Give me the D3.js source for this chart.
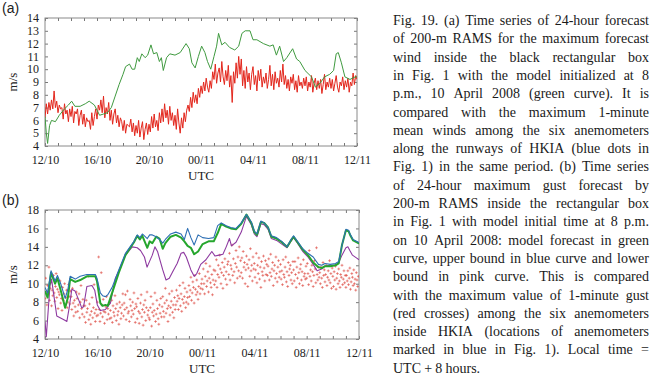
<!DOCTYPE html>
<html>
<head>
<meta charset="UTF-8">
<title>Fig. 19</title>
<script src="https://cdn.jsdelivr.net/npm/d3@7"></script>
<style>
body{margin:0;background:#fff;}
.tick text{font-family:'Liberation Serif','Times New Roman',Times,serif;font-size:12px;fill:#222;}
.tick line{stroke:#777;}
.lab{font-family:'Liberation Serif','Times New Roman',Times,serif;font-size:13px;fill:#222;}
.plab{font-family:'Liberation Sans',Arial,sans-serif;font-size:14px;fill:#222;}
.cap{font-family:'Liberation Serif','Times New Roman',Times,serif;font-size:14px;fill:#1a1a1a;}
</style>
</head>
<body>
<div id="fig"></div>
<script>
// x axis: hours from 12 UTC 10 Apr to 12 UTC 11 Apr
var tickLabels = ["12/10","16/10","20/10","00/11","04/11","08/11","12/11"];

// (a) model max wind (green)
var greenA_t = [0,0.1,0.2,0.35,0.5,0.8,1.1,1.5,1.8,2.05,2.3,2.7,3.1,3.4,3.8,4.2,4.5,4.8,5.1,5.4,5.7,6.0,6.2,6.5,6.7,6.9,7.1,7.25,7.45,7.7,7.9,8.15,8.35,8.6,8.8,8.95,9.1,9.35,9.6,10.0,10.4,10.85,11.1,11.3,11.55,11.8,12.05,12.3,12.5,12.75,13.0,13.2,13.35,13.6,13.85,14.2,14.6,14.9,15.15,15.4,15.77,16.0,16.3,16.8,17.3,17.55,17.8,18.05,18.35,18.6,19.05,19.35,19.6,20.0,20.5,20.8,21.15,21.5,21.9,22.2,22.4,22.56,22.8,23.07,23.46,23.85,24];
var greenA_v = [6.3,5.0,4.2,5.6,6.0,5.9,6.4,6.9,7.2,7.5,7.1,7.1,7.3,7.5,7.2,6.4,6.5,6.6,7.0,7.9,8.8,9.6,10.2,10.4,10.0,10.0,10.9,10.6,11.2,10.9,11.1,11.9,11.2,11.3,10.6,10.9,9.9,10.9,11.2,11.1,11.3,12.0,11.6,10.5,10.1,11.0,11.8,11.3,10.6,10.0,11.0,11.8,12.8,11.9,12.1,11.7,11.5,11.8,12.8,13.0,13.0,12.3,12.3,12.0,11.8,11.9,11.1,11.8,10.6,10.9,11.6,10.8,10.6,9.9,9.4,8.6,8.9,9.4,9.6,9.9,11.2,11.3,10.5,9.4,9.2,9.4,9.4];

// (a) observed max 1-min mean wind (red), one value every 0.1 h
var redA = [
6.2,7.3,6.5,7.4,6.8,7.6,6.9,8.3,7.0,7.5,
6.6,7.2,6.9,7.0,6.1,7.3,6.5,6.8,5.9,6.9,
6.3,7.1,5.8,6.7,6.5,6.9,5.6,6.4,6.8,5.7,
6.5,5.5,6.2,5.9,6.0,5.3,6.6,5.6,6.3,6.9,
6.1,7.2,6.8,7.6,6.6,7.9,6.2,7.0,6.5,7.4,
6.0,6.8,5.7,6.5,6.9,5.8,6.4,5.5,6.2,5.9,
5.2,6.0,5.0,5.7,5.6,5.5,6.1,5.1,5.8,4.8,
5.6,5.0,6.0,4.7,5.4,5.9,4.5,5.3,5.8,4.9,
5.7,5.1,6.3,5.4,6.5,5.5,6.0,5.2,6.6,5.8,
6.9,5.9,7.3,6.2,6.8,5.7,7.1,6.0,6.6,5.6,
6.4,5.3,6.9,5.8,5.0,6.2,5.4,6.6,5.9,6.8,
7.2,6.7,7.8,7.0,8.2,7.4,8.0,7.3,8.5,7.8,
8.7,8.1,9.0,8.3,9.3,8.6,8.2,9.1,8.5,9.8,
9.2,10.4,8.9,9.7,10.1,9.0,10.6,9.4,8.8,9.9,
9.1,10.3,8.6,9.5,7.4,9.8,8.9,10.5,9.3,11.0,
9.6,10.8,8.7,9.9,8.5,10.2,9.0,9.7,8.4,9.6,
10.2,8.8,9.5,8.3,9.9,9.1,10.0,8.6,9.4,8.9,
9.7,8.5,9.2,10.3,8.7,9.6,8.4,9.8,8.9,9.3,
8.6,9.9,9.0,10.4,8.8,9.5,8.5,9.2,8.3,9.4,
8.9,9.6,8.4,9.1,8.2,9.5,8.7,9.0,8.5,9.3,
8.7,9.4,8.3,9.0,8.6,9.5,8.2,8.9,9.3,8.4,
9.1,8.5,9.2,8.1,8.8,9.6,8.4,9.0,8.6,9.3,
8.5,9.2,8.3,8.9,9.5,8.6,8.2,9.0,8.7,9.4,
8.4,9.1,8.6,9.3,8.2,9.0,8.7,9.7,8.8,9.5,
9.2];

// (b) gust forecast: model (green), upper bound (blue), lower bound (pink)
var greenB_t = [0,0.2,0.46,0.77,0.95,1.2,1.54,1.75,1.92,2.31,2.69,3.2,3.85,3.97,4.23,4.4,4.62,4.8,5.13,5.64,6.15,6.8,7.05,7.25,7.44,7.82,8.0,8.2,8.5,8.75,9.0,9.2,9.6,10.0,10.4,10.65,10.9,11.15,11.4,11.7,12.05,12.5,12.9,13.2,13.47,13.85,14.2,14.6,15.0,15.4,15.77,16.0,16.2,16.5,16.75,17.05,17.3,17.7,18.1,18.5,18.8,19.0,19.3,19.7,20.1,20.5,20.9,21.15,21.4,21.8,22.2,22.45,22.7,23.0,23.2,23.35,23.55,23.95,24];
var greenB_v = [9.2,8.5,11.2,10.0,10.6,9.3,7.4,8.5,10.5,10.2,10.4,10.8,10.8,10.3,7.9,7.6,7.7,7.6,9.0,11.2,13.1,14.5,15.2,14.8,15.2,13.9,14.6,14.4,15.1,14.9,13.8,14.4,15.1,15.3,15.0,14.6,14.1,13.9,13.2,13.5,14.3,14.6,14.6,15.5,16.5,16.2,16.0,15.9,16.5,17.5,16.6,15.6,15.3,16.7,16.6,16.1,15.1,14.9,14.5,14.0,14.7,15.1,14.5,13.7,13.1,12.3,11.8,11.7,11.9,11.9,12.0,12.2,14.2,15.8,15.7,15.2,14.7,14.4,14.4];
var blueB_v = [9.6,9.0,11.4,10.3,10.9,10.0,8.4,9.4,10.8,10.5,10.8,11.0,11.0,10.6,9.0,8.7,8.6,8.8,9.6,11.5,13.3,14.6,15.3,15.0,15.4,14.9,15.3,15.3,15.1,14.8,14.4,14.8,15.4,15.6,15.4,14.8,16.0,15.0,14.2,15.3,15.0,14.9,15.0,16.3,16.6,16.3,16.1,16.0,16.6,17.5,16.7,15.7,15.4,16.8,16.6,16.1,15.2,15.0,14.6,14.0,14.8,15.2,14.6,13.8,13.3,12.9,12.1,12.0,12.2,12.1,12.2,12.4,14.2,15.9,15.8,15.3,14.8,14.5,14.5];
var pinkB_t = [0,0.1,0.38,0.5,0.65,0.9,1.3,1.55,1.67,1.85,2.05,2.3,2.56,2.8,2.95,3.2,3.59,3.8,4.0,4.23,4.62,5.0,5.38,5.77,6.15,6.67,7.05,7.3,7.6,7.8,8.2,8.4,8.6,9.0,9.25,9.5,9.8,10.1,10.4,10.6,10.8,11.15,11.4,11.6,11.9,12.3,12.75,13.0,13.3,13.6,13.85,14.1,14.25,14.6,15.0,15.4,15.77,16.0,16.2,16.5,16.75,17.05,17.3,17.7,18.1,18.5,18.8,19.0,19.3,19.7,20.1,20.5,20.8,21.15,21.4,21.8,22.2,22.45,22.7,23.0,23.15,23.3,23.5,23.8,24];
var pinkB_v = [5.9,4.25,9.8,10.5,9.0,6.5,6.2,6.0,5.9,7.4,9.4,9.2,8.3,7.4,7.5,9.7,9.8,9.3,7.7,7.1,7.2,7.9,10.6,11.8,13.1,14.0,13.9,13.6,12.9,11.8,13.1,14.0,13.5,11.5,10.4,10.6,11.4,12.2,13.3,13.4,12.9,11.5,10.8,11.1,12.1,12.6,13.5,13.0,13.1,13.2,14.0,14.9,14.1,14.5,15.6,17.3,16.4,15.4,15.1,16.5,16.4,15.9,14.9,14.7,14.3,13.9,14.6,15.0,14.4,13.5,12.9,12.1,11.4,11.6,11.9,12.0,12.0,12.3,13.1,13.9,14.0,13.6,13.1,12.8,12.6];

// (b) observed max 1-min gust (red crosses), one value every 0.05 h
var gustB = [
8.4,10.6,9.1,7.7,9.8,8.9,11.8,8.2,9.5,10.1,7.6,9.3,8.7,10.9,9.0,8.1,9.7,11.1,8.5,9.4,
7.3,9.1,8.8,10.3,7.9,8.4,7.1,9.6,8.2,8.9,10.0,7.6,8.5,9.3,7.4,8.0,9.9,8.6,7.8,9.2,
8.6,7.2,9.5,7.9,6.5,8.2,7.5,6.9,9.1,8.4,7.0,7.7,8.9,6.3,8.0,9.8,7.3,6.7,8.3,7.6,
6.4,7.6,5.8,8.2,6.9,7.3,10.8,6.1,7.8,6.6,5.6,7.0,8.5,6.3,7.4,9.9,6.8,5.9,7.2,6.5,
8.0,6.6,12.9,7.2,5.9,6.8,11.2,7.7,6.4,8.3,7.0,5.7,6.9,7.5,8.6,6.1,7.3,6.7,7.9,6.2,
7.1,6.3,8.2,5.8,7.6,6.9,6.5,8.7,7.3,6.0,7.8,6.6,7.0,5.6,8.0,7.4,6.2,6.8,7.7,8.9,
6.5,7.9,7.2,8.8,6.1,7.4,9.2,6.8,7.0,5.9,8.3,7.6,6.4,7.1,8.0,6.7,9.0,7.3,5.8,7.8,
7.5,6.2,8.4,7.0,5.7,6.8,7.9,8.8,6.4,7.2,5.5,7.7,6.9,8.2,6.0,7.4,9.1,6.6,7.1,6.3,
6.1,7.4,8.6,5.4,6.9,7.8,6.5,7.1,9.0,5.9,6.7,8.2,7.3,6.2,5.6,7.7,6.8,8.4,6.4,7.5,
8.6,7.0,6.4,7.9,9.5,6.8,8.2,7.3,5.9,7.6,8.9,6.6,7.4,8.1,9.2,6.9,7.7,6.3,8.5,7.2,
7.7,9.3,8.1,8.7,7.2,8.4,9.8,7.6,8.9,7.0,8.3,10.1,7.9,8.6,9.5,7.4,8.0,9.1,8.5,7.8,
9.8,8.6,9.3,10.7,8.2,9.0,10.2,9.6,7.9,10.9,9.4,8.8,10.4,9.1,8.3,9.7,11.1,8.9,9.5,10.0,
10.5,9.4,11.6,10.0,8.9,10.8,12.2,9.7,10.3,11.3,9.1,10.6,11.9,10.1,9.6,11.0,8.8,10.4,11.5,9.9,
11.4,10.3,12.6,9.6,11.0,12.0,10.7,13.1,11.6,10.0,11.2,12.3,9.5,10.9,11.8,12.7,10.5,11.3,9.9,12.1,
12.4,11.0,13.3,10.4,12.0,11.6,14.2,10.9,12.7,11.3,10.1,12.2,13.6,11.8,10.6,12.9,11.4,14.0,10.8,12.5,
11.2,12.8,10.6,13.5,11.8,12.3,10.0,11.5,13.0,12.1,9.7,11.7,12.6,10.8,13.8,11.4,12.0,10.3,12.9,11.6,
12.2,10.7,11.5,13.3,10.1,12.0,11.1,12.8,10.5,11.8,9.6,12.4,11.3,10.9,13.0,11.7,10.3,12.5,11.0,12.1,
10.9,11.9,12.7,10.4,11.2,13.2,10.8,11.6,12.3,9.8,11.4,12.0,10.6,12.9,11.1,10.2,11.8,12.5,10.7,11.3,
12.1,10.5,11.4,9.9,12.6,11.0,10.7,11.8,12.9,10.2,11.3,9.7,12.3,10.9,11.6,12.0,10.4,11.2,10.0,12.4,
11.5,10.3,12.4,11.0,9.6,11.8,10.6,12.8,11.2,10.0,11.6,12.1,10.4,11.3,9.8,12.6,10.8,11.1,10.5,11.9,
10.6,12.2,11.1,9.9,13.6,10.8,11.5,10.3,12.0,11.3,9.7,10.9,12.5,11.6,10.1,13.9,11.0,10.4,11.8,10.7,
11.2,10.0,11.8,10.6,9.6,12.3,10.9,11.5,10.2,11.0,12.0,9.8,10.7,11.4,10.4,12.5,10.1,11.1,9.5,11.7,
10.8,9.7,11.3,10.4,11.9,9.4,10.6,11.1,10.0,11.6,10.3,9.6,11.0,10.7,12.0,9.9,10.5,11.4,10.1,10.9,
9.6,10.9,10.3,11.4,9.9,10.6,11.7,9.4,10.2,11.1,10.7,9.8,11.5,10.0,10.5,9.3,11.2,10.4,9.7,10.8];

var captionLines = [
  "Fig. 19. (a) Time series of 24-hour forecast",
  "of 200-m RAMS for the maximum forecast",
  "wind inside the black rectangular box",
  "in Fig. 1 with the model initialized at 8",
  "p.m., 10 April 2008 (green curve). It is",
  "compared with the maximum 1-minute",
  "mean winds among the six anemometers",
  "along the runways of HKIA (blue dots in",
  "Fig. 1) in the same period. (b) Time series",
  "of 24-hour maximum gust forecast by",
  "200-m RAMS inside the rectangular box",
  "in Fig. 1 with model initial time at 8 p.m.",
  "on 10 April 2008: model forecast in green",
  "curve, upper bound in blue curve and lower",
  "bound in pink curve. This is compared",
  "with the maximum value of 1-minute gust",
  "(red crosses) among the six anemometers",
  "inside HKIA (locations of anemometers",
  "marked in blue in Fig. 1). Local time =",
  "UTC + 8 hours."
];

var svg = d3.select("#fig").append("svg")
    .attr("width", 656)
    .attr("height", 378);

var clipN = 0;
function panel(box, yDomain, yStep, name) {
    var x = d3.scaleLinear().domain([0, 24]).range([box.l, box.r]);
    var y = d3.scaleLinear().domain(yDomain).range([box.b, box.t]);
    var g = svg.append("g");

    g.append("rect")
        .attr("x", box.l).attr("y", box.t)
        .attr("width", box.r - box.l).attr("height", box.b - box.t)
        .attr("fill", "#fff");

    var yt = d3.range(yDomain[0], yDomain[1] + 0.01, yStep);
    var hrs = d3.range(0, 25);

    g.append("g").attr("transform", "translate(" + box.l + ",0)")
        .call(d3.axisLeft(y).tickValues(yt).tickSize(-3).tickPadding(6).tickFormat(d3.format("d")))
        .call(function(s){ s.select(".domain").remove(); s.selectAll("text").attr("dy", "0.3em"); });
    g.append("g").attr("transform", "translate(" + box.r + ",0)")
        .call(d3.axisRight(y).tickValues(yt).tickSize(-3).tickFormat(""))
        .call(function(s){ s.select(".domain").remove(); });
    g.append("g").attr("transform", "translate(0," + box.b + ")")
        .call(d3.axisBottom(x).tickValues(hrs).tickSize(-3).tickPadding(9)
            .tickFormat(function(d){ return d % 4 === 0 ? tickLabels[d / 4] : ""; }))
        .call(function(s){ s.select(".domain").remove(); });
    g.append("g").attr("transform", "translate(0," + box.t + ")")
        .call(d3.axisTop(x).tickValues(hrs).tickSize(-3).tickFormat(""))
        .call(function(s){ s.select(".domain").remove(); });

    g.append("rect")
        .attr("x", box.l).attr("y", box.t)
        .attr("width", box.r - box.l).attr("height", box.b - box.t)
        .attr("fill", "none").attr("stroke", "#8a8a8a").attr("stroke-width", 1);

    var id = "clip" + (clipN++);
    svg.append("clipPath").attr("id", id).append("rect")
        .attr("x", box.l).attr("y", box.t)
        .attr("width", box.r - box.l).attr("height", box.b - box.t);
    var plot = g.append("g").attr("clip-path", "url(#" + id + ")");

    g.append("text").attr("class", "lab")
        .attr("x", (box.l + box.r) / 2).attr("y", box.b + 34)
        .attr("text-anchor", "middle").text("UTC");
    g.append("text").attr("class", "lab")
        .attr("transform", "translate(" + 17 + "," + ((box.t + box.b) / 2) + ") rotate(-90)")
        .attr("text-anchor", "middle").text("m/s");
    g.append("text").attr("class", "plab")
        .attr("x", 2).attr("y", box.t - 5).text(name);

    return {x: x, y: y, g: plot};
}

function drawLine(p, ts, vs, color, w) {
    var line = d3.line().x(function(d){ return p.x(d[0]); }).y(function(d){ return p.y(d[1]); });
    p.g.append("path").datum(d3.zip(ts, vs))
        .attr("d", line).attr("fill", "none")
        .attr("stroke", color).attr("stroke-width", w)
        .attr("stroke-linejoin", "round");
}

// panel (a)
var pa = panel({l: 45, r: 357, t: 18, b: 146}, [4, 14], 1, "(a)");
drawLine(pa, redA.map(function(d, i){ return i * 0.1; }), redA, "#e3261c", 1);
drawLine(pa, greenA_t, greenA_v, "#3f9a3f", 1);

// panel (b)
var pb = panel({l: 45, r: 359, t: 210, b: 339}, [4, 18], 2, "(b)");
pb.g.selectAll("path.cross").data(gustB).enter().append("path")
    .attr("class", "cross")
    .attr("d", function(d, i){
        var cx = pb.x(i * 0.05), cy = pb.y(d), s = 1.4;
        return "M" + (cx - s) + "," + cy + "h" + (2 * s) + "M" + cx + "," + (cy - s) + "v" + (2 * s);
    })
    .attr("stroke", "#dd4a42").attr("stroke-width", 0.6).attr("fill", "none");
drawLine(pb, pinkB_t, pinkB_v, "#8e3aa0", 1.1);
drawLine(pb, greenB_t, greenB_v, "#25a62d", 2);
drawLine(pb, greenB_t, blueB_v, "#2d6fb4", 1.1);

// caption, justified
var capX = 393, capW = 256, capY = 25, capDy = 18.3;
captionLines.forEach(function(str, i) {
    var words = str.split(" ");
    var t = svg.append("text").attr("class", "cap");
    var spans = words.map(function(w){ return t.append("tspan").text(w); });
    var widths = spans.map(function(s){ return s.node().getComputedTextLength(); });
    var total = d3.sum(widths), gaps = words.length - 1;
    var last = i === captionLines.length - 1;
    var minGap = 3.2, s = 1, gap = minGap;
    if (total + minGap * gaps > capW) s = capW / (total + minGap * gaps);
    if (!last && gaps > 0) gap = (capW / s - total) / gaps;
    var cx = 0;
    spans.forEach(function(sp, k){
        sp.attr("x", cx);
        cx += widths[k] + gap;
    });
    t.attr("transform", "translate(" + capX + "," + (capY + i * capDy) + ") scale(" + s + ",1)");
});
</script>
</body>
</html>
